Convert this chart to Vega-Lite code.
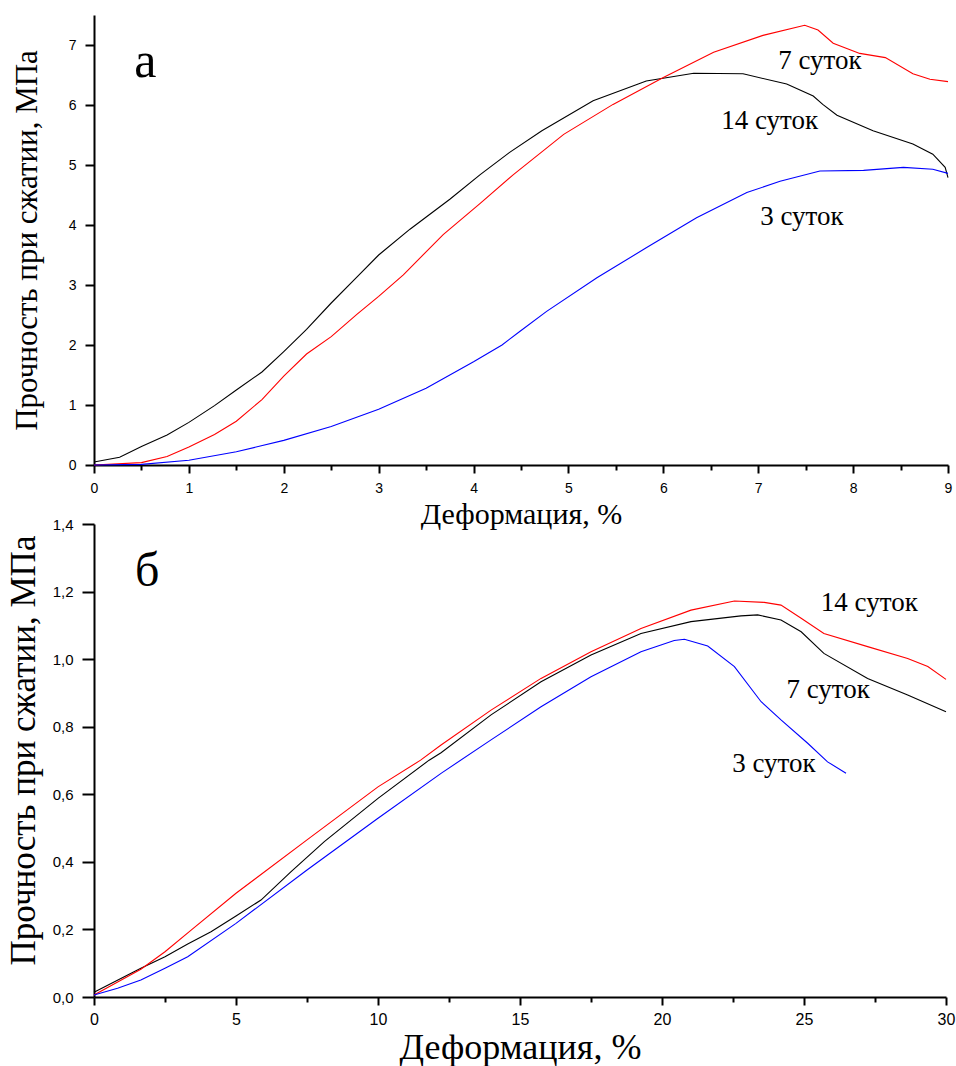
{
  "$schema": "https://vega.github.io/schema/vega-lite/v6.json",
  "background": "white",
  "padding": {"left": 6, "top": 15, "right": 2, "bottom": 2},
  "datasets": {
    "topLines": [
      {"x": 0, "y": 0.05, "series": "14 суток"}, {"x": 0.27, "y": 0.13, "series": "14 суток"}, {"x": 0.5, "y": 0.31, "series": "14 суток"}, {"x": 0.77, "y": 0.5, "series": "14 суток"}, {"x": 1.0, "y": 0.71, "series": "14 суток"}, {"x": 1.27, "y": 0.99, "series": "14 суток"}, {"x": 1.5, "y": 1.25, "series": "14 суток"}, {"x": 1.77, "y": 1.55, "series": "14 суток"}, {"x": 2.0, "y": 1.89, "series": "14 суток"}, {"x": 2.24, "y": 2.26, "series": "14 суток"}, {"x": 2.5, "y": 2.7, "series": "14 суток"}, {"x": 2.77, "y": 3.13, "series": "14 суток"}, {"x": 3.0, "y": 3.5, "series": "14 суток"}, {"x": 3.33, "y": 3.93, "series": "14 суток"}, {"x": 3.75, "y": 4.43, "series": "14 суток"}, {"x": 4.07, "y": 4.84, "series": "14 суток"}, {"x": 4.38, "y": 5.21, "series": "14 суток"}, {"x": 4.72, "y": 5.57, "series": "14 суток"}, {"x": 5.26, "y": 6.07, "series": "14 суток"}, {"x": 5.82, "y": 6.4, "series": "14 суток"}, {"x": 6.32, "y": 6.53, "series": "14 суток"}, {"x": 6.84, "y": 6.52, "series": "14 суток"}, {"x": 7.3, "y": 6.35, "series": "14 суток"}, {"x": 7.58, "y": 6.15, "series": "14 суток"}, {"x": 7.68, "y": 6.01, "series": "14 суток"}, {"x": 7.83, "y": 5.83, "series": "14 суток"}, {"x": 8.21, "y": 5.57, "series": "14 суток"}, {"x": 8.63, "y": 5.35, "series": "14 суток"}, {"x": 8.84, "y": 5.18, "series": "14 суток"}, {"x": 8.97, "y": 4.96, "series": "14 суток"}, {"x": 9.0, "y": 4.79, "series": "14 суток"},
      {"x": 0, "y": 0, "series": "7 суток"}, {"x": 0.5, "y": 0.04, "series": "7 суток"}, {"x": 0.77, "y": 0.14, "series": "7 суток"}, {"x": 1.0, "y": 0.3, "series": "7 суток"}, {"x": 1.27, "y": 0.51, "series": "7 суток"}, {"x": 1.5, "y": 0.73, "series": "7 суток"}, {"x": 1.77, "y": 1.09, "series": "7 суток"}, {"x": 2.0, "y": 1.48, "series": "7 суток"}, {"x": 2.24, "y": 1.85, "series": "7 суток"}, {"x": 2.5, "y": 2.14, "series": "7 суток"}, {"x": 2.77, "y": 2.51, "series": "7 суток"}, {"x": 3.0, "y": 2.81, "series": "7 суток"}, {"x": 3.26, "y": 3.17, "series": "7 суток"}, {"x": 3.68, "y": 3.84, "series": "7 суток"}, {"x": 4.07, "y": 4.36, "series": "7 суток"}, {"x": 4.42, "y": 4.84, "series": "7 суток"}, {"x": 4.95, "y": 5.51, "series": "7 суток"}, {"x": 5.47, "y": 6.01, "series": "7 суток"}, {"x": 6.0, "y": 6.46, "series": "7 суток"}, {"x": 6.53, "y": 6.88, "series": "7 суток"}, {"x": 7.05, "y": 7.16, "series": "7 суток"}, {"x": 7.49, "y": 7.33, "series": "7 суток"}, {"x": 7.63, "y": 7.25, "series": "7 суток"}, {"x": 7.79, "y": 7.03, "series": "7 суток"}, {"x": 8.07, "y": 6.86, "series": "7 суток"}, {"x": 8.34, "y": 6.79, "series": "7 суток"}, {"x": 8.63, "y": 6.52, "series": "7 суток"}, {"x": 8.81, "y": 6.43, "series": "7 суток"}, {"x": 9.0, "y": 6.39, "series": "7 суток"},
      {"x": 0, "y": 0, "series": "3 суток"}, {"x": 0.5, "y": 0.01, "series": "3 суток"}, {"x": 1.0, "y": 0.08, "series": "3 суток"}, {"x": 1.5, "y": 0.22, "series": "3 суток"}, {"x": 2.0, "y": 0.41, "series": "3 суток"}, {"x": 2.5, "y": 0.64, "series": "3 суток"}, {"x": 3.0, "y": 0.93, "series": "3 суток"}, {"x": 3.5, "y": 1.28, "series": "3 суток"}, {"x": 4.0, "y": 1.72, "series": "3 суток"}, {"x": 4.3, "y": 2.0, "series": "3 суток"}, {"x": 4.49, "y": 2.23, "series": "3 суток"}, {"x": 4.77, "y": 2.56, "series": "3 суток"}, {"x": 5.3, "y": 3.12, "series": "3 суток"}, {"x": 5.82, "y": 3.62, "series": "3 суток"}, {"x": 6.35, "y": 4.12, "series": "3 суток"}, {"x": 6.88, "y": 4.54, "series": "3 суток"}, {"x": 7.23, "y": 4.73, "series": "3 суток"}, {"x": 7.65, "y": 4.9, "series": "3 суток"}, {"x": 8.11, "y": 4.91, "series": "3 суток"}, {"x": 8.53, "y": 4.96, "series": "3 суток"}, {"x": 8.84, "y": 4.93, "series": "3 суток"}, {"x": 9.0, "y": 4.86, "series": "3 суток"}
    ],
    "topLabels": [
      {"x": 7.65, "y": 6.6, "label": "7 суток"},
      {"x": 7.12, "y": 5.6, "label": "14 суток"},
      {"x": 7.46, "y": 4.0, "label": "3 суток"}
    ],
    "topLetter": [{"x": 0.54, "y": 6.47, "label": "а"}],
    "botLines": [
      {"x": 0, "y": 0.014, "series": "7 суток"}, {"x": 1.65, "y": 0.085, "series": "7 суток"}, {"x": 2.5, "y": 0.119, "series": "7 суток"}, {"x": 3.3, "y": 0.157, "series": "7 суток"}, {"x": 4.12, "y": 0.193, "series": "7 суток"}, {"x": 5.0, "y": 0.24, "series": "7 суток"}, {"x": 5.88, "y": 0.287, "series": "7 суток"}, {"x": 6.94, "y": 0.371, "series": "7 суток"}, {"x": 8.11, "y": 0.46, "series": "7 суток"}, {"x": 10.0, "y": 0.588, "series": "7 суток"}, {"x": 11.8, "y": 0.701, "series": "7 суток"}, {"x": 12.22, "y": 0.723, "series": "7 суток"}, {"x": 13.98, "y": 0.835, "series": "7 суток"}, {"x": 15.74, "y": 0.933, "series": "7 суток"}, {"x": 17.5, "y": 1.012, "series": "7 суток"}, {"x": 19.26, "y": 1.076, "series": "7 суток"}, {"x": 21.02, "y": 1.111, "series": "7 суток"}, {"x": 22.78, "y": 1.128, "series": "7 суток"}, {"x": 23.37, "y": 1.131, "series": "7 суток"}, {"x": 24.19, "y": 1.116, "series": "7 суток"}, {"x": 24.9, "y": 1.081, "series": "7 суток"}, {"x": 25.7, "y": 1.017, "series": "7 суток"}, {"x": 27.24, "y": 0.943, "series": "7 суток"}, {"x": 28.65, "y": 0.894, "series": "7 суток"}, {"x": 30.0, "y": 0.844, "series": "7 суток"},
      {"x": 0, "y": 0.006, "series": "14 суток"}, {"x": 1.65, "y": 0.082, "series": "14 суток"}, {"x": 2.5, "y": 0.134, "series": "14 суток"}, {"x": 3.42, "y": 0.198, "series": "14 суток"}, {"x": 5.0, "y": 0.307, "series": "14 суток"}, {"x": 7.5, "y": 0.465, "series": "14 суток"}, {"x": 10.0, "y": 0.622, "series": "14 суток"}, {"x": 11.5, "y": 0.701, "series": "14 суток"}, {"x": 12.22, "y": 0.746, "series": "14 суток"}, {"x": 13.98, "y": 0.849, "series": "14 суток"}, {"x": 15.74, "y": 0.943, "series": "14 суток"}, {"x": 17.5, "y": 1.022, "series": "14 суток"}, {"x": 19.26, "y": 1.091, "series": "14 суток"}, {"x": 21.02, "y": 1.145, "series": "14 суток"}, {"x": 22.55, "y": 1.172, "series": "14 суток"}, {"x": 23.6, "y": 1.168, "series": "14 суток"}, {"x": 24.19, "y": 1.16, "series": "14 суток"}, {"x": 24.9, "y": 1.121, "series": "14 суток"}, {"x": 25.7, "y": 1.076, "series": "14 суток"}, {"x": 27.24, "y": 1.037, "series": "14 суток"}, {"x": 28.65, "y": 1.002, "series": "14 суток"}, {"x": 29.36, "y": 0.978, "series": "14 суток"}, {"x": 30.0, "y": 0.94, "series": "14 суток"},
      {"x": 0, "y": 0.006, "series": "3 суток"}, {"x": 0.83, "y": 0.026, "series": "3 суток"}, {"x": 1.65, "y": 0.05, "series": "3 суток"}, {"x": 2.5, "y": 0.085, "series": "3 суток"}, {"x": 3.3, "y": 0.119, "series": "3 суток"}, {"x": 5.0, "y": 0.218, "series": "3 суток"}, {"x": 7.5, "y": 0.376, "series": "3 суток"}, {"x": 10.0, "y": 0.529, "series": "3 суток"}, {"x": 12.22, "y": 0.662, "series": "3 суток"}, {"x": 13.98, "y": 0.761, "series": "3 суток"}, {"x": 15.74, "y": 0.859, "series": "3 суток"}, {"x": 17.5, "y": 0.948, "series": "3 суток"}, {"x": 19.26, "y": 1.022, "series": "3 суток"}, {"x": 20.43, "y": 1.055, "series": "3 суток"}, {"x": 20.79, "y": 1.059, "series": "3 суток"}, {"x": 21.61, "y": 1.039, "series": "3 суток"}, {"x": 22.55, "y": 0.978, "series": "3 суток"}, {"x": 23.49, "y": 0.874, "series": "3 суток"}, {"x": 24.19, "y": 0.82, "series": "3 суток"}, {"x": 25.13, "y": 0.751, "series": "3 суток"}, {"x": 25.83, "y": 0.696, "series": "3 суток"}, {"x": 26.48, "y": 0.662, "series": "3 суток"}
    ],
    "botLabels": [
      {"x": 27.3, "y": 1.142, "label": "14 суток"},
      {"x": 25.85, "y": 0.884, "label": "7 суток"},
      {"x": 23.94, "y": 0.667, "label": "3 суток"}
    ],
    "botLetter": [{"x": 1.87, "y": 1.216, "label": "б"}]
  },
  "bounds": "flush",
  "spacing": 59,
  "resolve": {"scale": {"color": "independent"}},
  "vconcat": [
    {
      "width": 854,
      "height": 450,
      "layer": [
        {
          "data": {"name": "topLines"},
          "mark": {"type": "line", "strokeWidth": 1.1},
          "encoding": {
            "x": {"field": "x", "type": "quantitative", "scale": {"domain": [0, 9], "nice": false},
              "axis": {"title": "Деформация, %", "values": [0, 0.5, 1, 1.5, 2, 2.5, 3, 3.5, 4, 4.5, 5, 5.5, 6, 6.5, 7, 7.5, 8, 8.5, 9],
                "labelExpr": "datum.value % 1 === 0 ? format(datum.value, 'd') : ''",
                "tickSize": {"condition": {"test": "datum.value % 1 !== 0", "value": 5}, "value": 8},
                "labelPadding": 8, "titleFontSize": 30, "titlePadding": 4}},
            "y": {"field": "y", "type": "quantitative", "scale": {"domain": [0, 7.5], "nice": false},
              "axis": {"title": "Прочность при сжатии, МПа", "values": [0, 0.5, 1, 1.5, 2, 2.5, 3, 3.5, 4, 4.5, 5, 5.5, 6, 6.5, 7, 7.5],
                "labelExpr": "datum.value % 1 === 0 ? format(datum.value, 'd') : ''",
                "tickSize": {"condition": {"test": "datum.value % 1 !== 0", "value": 5}, "value": 9},
                "labelPadding": 9, "titleFontSize": 31, "titlePadding": 25}},
            "color": {"field": "series", "type": "nominal", "legend": null,
              "scale": {"domain": ["3 суток", "7 суток", "14 суток"], "range": ["#0000ff", "#ff0000", "#000000"]}}
          }
        },
        {
          "data": {"name": "topLabels"},
          "mark": {"type": "text", "font": "Liberation Serif", "fontSize": 27, "align": "center", "baseline": "alphabetic", "color": "#000000"},
          "encoding": {
            "x": {"field": "x", "type": "quantitative"},
            "y": {"field": "y", "type": "quantitative"},
            "text": {"field": "label"}
          }
        },
        {
          "data": {"name": "topLetter"},
          "mark": {"type": "text", "font": "Liberation Serif", "fontSize": 50, "align": "center", "baseline": "alphabetic", "color": "#000000"},
          "encoding": {
            "x": {"field": "x", "type": "quantitative"},
            "y": {"field": "y", "type": "quantitative"},
            "text": {"field": "label"}
          }
        }
      ]
    },
    {
      "width": 852,
      "height": 473,
      "layer": [
        {
          "data": {"name": "botLines"},
          "mark": {"type": "line", "strokeWidth": 1.1},
          "encoding": {
            "x": {"field": "x", "type": "quantitative", "scale": {"domain": [0, 30], "nice": false},
              "axis": {"title": "Деформация, %", "values": [0, 2.5, 5, 7.5, 10, 12.5, 15, 17.5, 20, 22.5, 25, 27.5, 30],
                "labelExpr": "datum.value % 5 === 0 ? format(datum.value, 'd') : ''",
                "tickSize": {"condition": {"test": "datum.value % 5 !== 0", "value": 5}, "value": 8},
                "labelPadding": 6, "labelFont": "Liberation Sans Narrow, Liberation Sans", "labelFontSize": 16, "titleFontSize": 36, "titlePadding": 3}},
            "y": {"field": "y", "type": "quantitative", "scale": {"domain": [0, 1.4], "nice": false},
              "axis": {"title": "Прочность при сжатии, МПа", "values": [0, 0.1, 0.2, 0.3, 0.4, 0.5, 0.6, 0.7, 0.8, 0.9, 1.0, 1.1, 1.2, 1.3, 1.4],
                "labelExpr": "round(datum.value * 10) % 2 === 0 ? replace(format(datum.value, '.1f'), '.', ',') : ''",
                "tickSize": {"condition": {"test": "round(datum.value * 10) % 2 !== 0", "value": 6}, "value": 12},
                "labelPadding": 9, "labelFontSize": 15, "titleFontSize": 35, "titlePadding": 11, "titleY": 226}},
            "color": {"field": "series", "type": "nominal", "legend": null,
              "scale": {"domain": ["3 суток", "7 суток", "14 суток"], "range": ["#0000ff", "#000000", "#ff0000"]}}
          }
        },
        {
          "data": {"name": "botLabels"},
          "mark": {"type": "text", "font": "Liberation Serif", "fontSize": 27, "align": "center", "baseline": "alphabetic", "color": "#000000"},
          "encoding": {
            "x": {"field": "x", "type": "quantitative"},
            "y": {"field": "y", "type": "quantitative"},
            "text": {"field": "label"}
          }
        },
        {
          "data": {"name": "botLetter"},
          "mark": {"type": "text", "font": "Liberation Serif", "fontSize": 48, "align": "center", "baseline": "alphabetic", "color": "#000000"},
          "encoding": {
            "x": {"field": "x", "type": "quantitative"},
            "y": {"field": "y", "type": "quantitative"},
            "text": {"field": "label"}
          }
        }
      ]
    }
  ],
  "config": {
    "view": {"stroke": null},
    "axis": {
      "grid": false,
      "labelFlush": false,
      "domainColor": "#000000",
      "domainWidth": 2,
      "tickColor": "#000000",
      "tickWidth": 2,
      "labelColor": "#000000",
      "labelFont": "Liberation Sans",
      "labelFontSize": 14,
      "titleFont": "Liberation Serif",
      "titleFontWeight": "normal",
      "titleColor": "#000000"
    }
  }
}
